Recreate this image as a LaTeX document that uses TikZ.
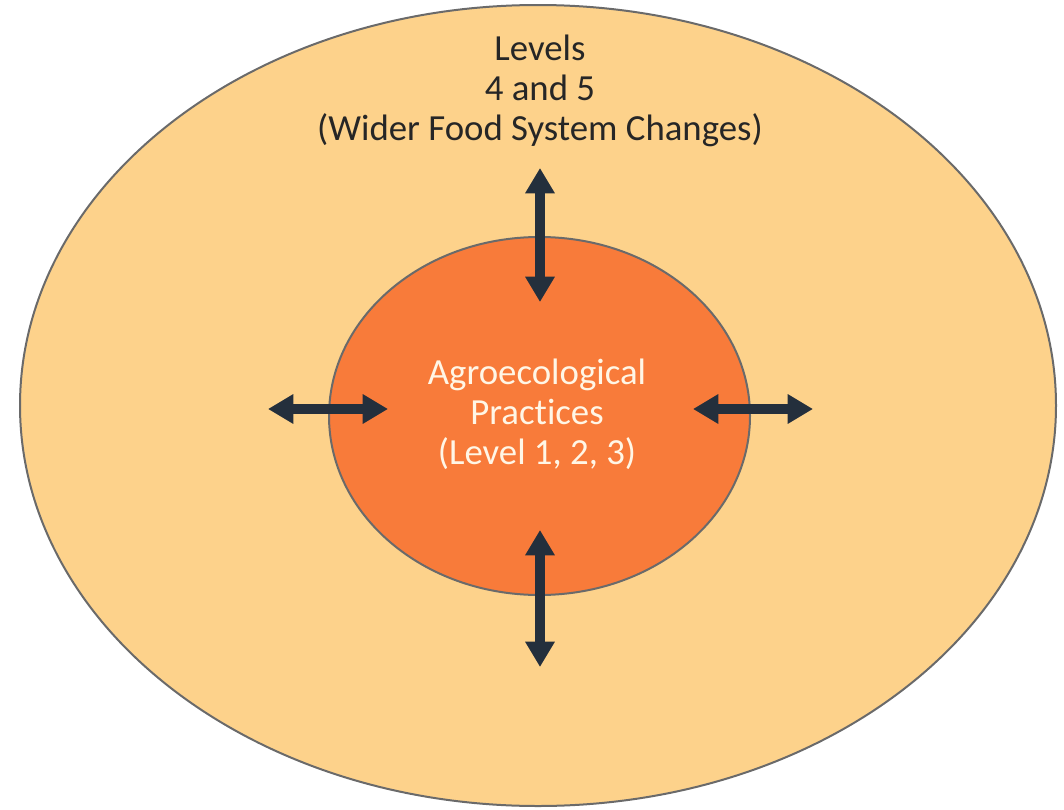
\documentclass[tikz,border=0pt]{standalone}
\usepackage{fontspec}
\setmainfont{Carlito}[Ligatures={NoCommon}]
\usepackage{xcolor}
\usepackage{tikz}
\usetikzlibrary{arrows.meta}
\usetikzlibrary{shapes.geometric}

\definecolor{outerfill}{HTML}{FDD28B}
\definecolor{innerfill}{HTML}{F87B3A}
\definecolor{rimgray}{HTML}{6A6A6A}
\definecolor{arrowdark}{HTML}{242F3C}
\definecolor{labeldark}{HTML}{262626}
\definecolor{labellight}{HTML}{FFF6E6}

\tikzset{
  ring/.style={ellipse, draw=rimgray, line width=1.5pt, inner sep=0pt},
  link/.style={draw=arrowdark, line width=7pt, {Triangle[length=19pt,width=21pt]}-{Triangle[length=19pt,width=21pt]}},
  caption/.style={align=center, font=\fontsize{27.6}{30}\selectfont}
}

\begin{document}
\begin{tikzpicture}[x=0.75pt,y=-0.75pt]
    \useasboundingbox (0,0) rectangle (1064,810);
    \node[ring, fill=outerfill, minimum width=777pt, minimum height=600.75pt] (outer) at (538,405.5) {};
    \node[ring, fill=innerfill, minimum width=315.75pt, minimum height=268.5pt] (inner) at (539.5,416) {};
    \node[caption, text=labeldark] (levels) at (540,91) {Levels\\4 and 5\\(Wider Food System Changes)};
    \node[caption, text=labellight] (practices) at (537,414) {Agroecological\\Practices\\(Level 1, 2, 3)};
    % arrow ends
    \coordinate (up1) at (540,168);
    \coordinate (up2) at (540,302);
    \coordinate (dn1) at (540,530);
    \coordinate (dn2) at (540,667);
    \coordinate (lf1) at (268,409);
    \coordinate (lf2) at (388,409);
    \coordinate (rt1) at (693,409);
    \coordinate (rt2) at (813,409);
    \draw[link] (up1) -- (up2);
    \draw[link] (dn1) -- (dn2);
    \draw[link] (lf1) -- (lf2);
    \draw[link] (rt1) -- (rt2);
\end{tikzpicture}
\end{document}
